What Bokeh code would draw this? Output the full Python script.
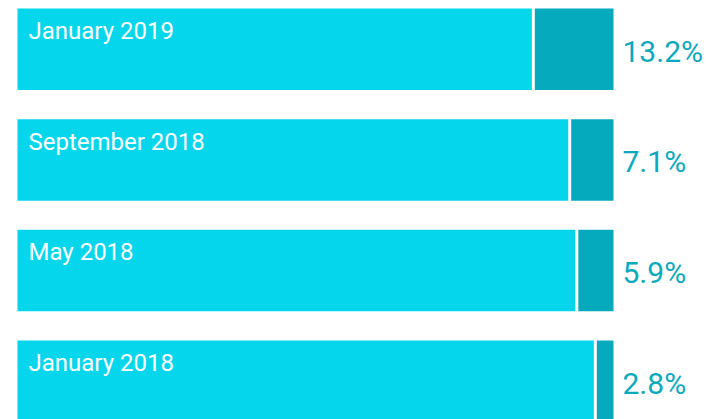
from bokeh.plotting import figure
from bokeh.models import ColumnDataSource, Range1d
from bokeh.core.properties import value
from bokeh.embed import file_html
from bokeh.resources import INLINE

# ---- data ----
labels = ["January 2019", "September 2018", "May 2018", "January 2018"]
values = [13.2, 7.1, 5.9, 2.8]
pct_labels = ["13.2%", "7.1%", "5.9%", "2.8%"]
total = 100.0

LIGHT = "#06D6EC"
DARK = "#05AABD"
PCT_COLOR = "#0AA9BC"

n = len(labels)
ypos = [n - 1 - i for i in range(n)]
bar_h = 0.736
gap = 0.5  # white gap between the two parts (data units)

src = ColumnDataSource(dict(
    y=ypos,
    top=[y + bar_h / 2 for y in ypos],
    split=[total - v for v in values],
    light_right=[total - v - gap for v in values],
    total=[total] * n,
    label=labels,
    pct=pct_labels,
))

p = figure(width=708, height=419, output_backend="svg", toolbar_location=None,
           x_range=Range1d(-2.852, 115.94), y_range=Range1d(-0.345, 3.440),
           min_border=0, min_border_left=0, min_border_right=0,
           min_border_top=0, min_border_bottom=0)
p.axis.visible = False
p.grid.visible = False
p.outline_line_color = None
p.background_fill_color = "white"
p.border_fill_color = "white"

p.hbar(y="y", left=0, right="light_right", height=bar_h, source=src,
       fill_color=LIGHT, line_color=None)
p.hbar(y="y", left="split", right="total", height=bar_h, source=src,
       fill_color=DARK, line_color=None)

p.text(x=0, y="top", text="label", source=src, x_offset=11, y_offset=22.5,
       text_color="white", text_font=value("Roboto"), text_font_size="24px",
       text_baseline="alphabetic", text_align="left")

p.text(x="total", y="y", text="pct", source=src, x_offset=9, y_offset=2,
       text_color=PCT_COLOR, text_font=value("Roboto"), text_font_size="30px",
       text_baseline="alphabetic", text_align="left")

open("out.html", "w").write(file_html(p, INLINE))
